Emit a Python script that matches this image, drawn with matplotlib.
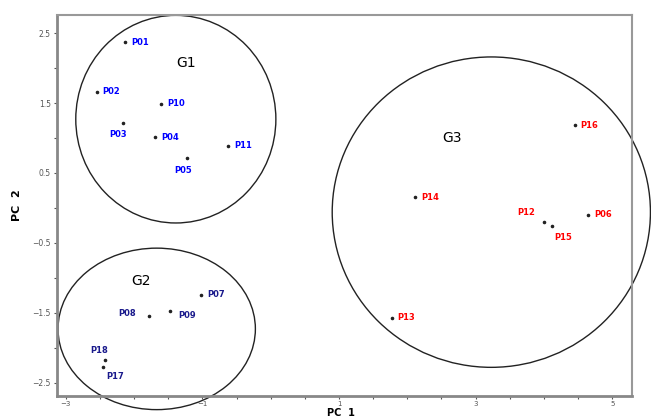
import matplotlib
matplotlib.use('Agg')
import matplotlib.pyplot as plt
from matplotlib.patches import Ellipse
import numpy as np

# PCA scores
g1_names = ['P01', 'P02', 'P10', 'P03', 'P04', 'P11', 'P05']
g1_x = [-2.13, -2.55, -1.61, -2.17, -1.69, -0.62, -1.22]
g1_y = [2.37, 1.66, 1.49, 1.22, 1.01, 0.89, 0.71]

g2_names = ['P07', 'P08', 'P09', 'P18', 'P17']
g2_x = [-1.02, -1.78, -1.47, -2.42, -2.46]
g2_y = [-1.24, -1.54, -1.47, -2.17, -2.28]

g3_names = ['P16', 'P14', 'P06', 'P12', 'P15', 'P13']
g3_x = [4.45, 2.11, 4.65, 4.00, 4.12, 1.77]
g3_y = [1.18, 0.15, -0.10, -0.20, -0.26, -1.57]

# group outlines: centre x, centre y, width, height
groups = ['G1', 'G2', 'G3']
grp_cx = [-1.39, -1.67, 3.23]
grp_cy = [1.27, -1.73, -0.06]
grp_w = [2.93, 2.89, 4.66]
grp_h = [2.97, 2.31, 4.44]
grp_lx = [-1.24, -1.90, 2.65]
grp_ly = [2.07, -1.05, 1.00]

# label offsets in pixels (dx, dy, ha) where not simply to the right
special = {
    'P03': (-4, -12, 'center'),
    'P05': (-4, -12, 'center'),
    'P08': (-13, 2, 'right'),
    'P09': (8, -5, 'left'),
    'P18': (-6, 9, 'center'),
    'P17': (12, -9, 'center'),
    'P12': (-9, 9, 'right'),
    'P15': (11, -11, 'center'),
}

fig = plt.figure(figsize=(6.51, 4.18), dpi=100)
ax = fig.add_axes([57/651, 22/418, 575/651, 381/418])

def draw(names, xs, ys, col):
    ax.scatter(xs, ys, s=2.5, color='#222222', zorder=3)
    for n, x, y in zip(names, xs, ys):
        dx, dy, ha = special.get(n, (6, 0, 'left'))
        ax.annotate(n, (x, y), xytext=(dx, dy), textcoords='offset pixels',
                    ha=ha, va='center', fontsize=6, fontweight='bold', color=col)

draw(g1_names, g1_x, g1_y, '#0000ff')
draw(g2_names, g2_x, g2_y, '#1a1a8c')
draw(g3_names, g3_x, g3_y, '#ff0000')

for i in range(3):
    e = Ellipse((grp_cx[i], grp_cy[i]), grp_w[i], grp_h[i], fill=False,
                edgecolor='#222222', lw=1.0, clip_on=False)
    ax.add_patch(e)
    ax.text(grp_lx[i], grp_ly[i], groups[i], fontsize=10, ha='center', va='center')

ax.set_xlim(-3.13, 5.29)
ax.set_ylim(-2.69, 2.76)
ax.set_xticks([-3, -1, 1, 3, 5])
ax.set_xticks(np.arange(-3, 5.01, 0.5), minor=True)
ax.set_yticks([-2.5, -1.5, -0.5, 0.5, 1.5, 2.5])
ax.set_yticks(np.arange(-2.5, 2.51, 0.5), minor=True)
ax.tick_params(which='both', length=2.5, width=0.8, color='#555555', labelsize=5.5,
               labelcolor='#555555', pad=2)
ax.tick_params(axis='x', which='both', pad=1, labelsize=5)
for s in ['left', 'bottom']:
    ax.spines[s].set_linewidth(2)
    ax.spines[s].set_color('#888888')
for s in ['top', 'right']:
    ax.spines[s].set_linewidth(1.5)
    ax.spines[s].set_color('#999999')

ax.set_xlabel('PC  1', fontsize=7, fontweight='bold', va='center')
ax.set_ylabel('PC  2', fontsize=8, fontweight='bold', va='center')
ax.xaxis.set_label_coords(0.494, -0.0455)
ax.yaxis.set_label_coords(-0.069, 0.5)

plt.savefig('out.png', dpi=100)
